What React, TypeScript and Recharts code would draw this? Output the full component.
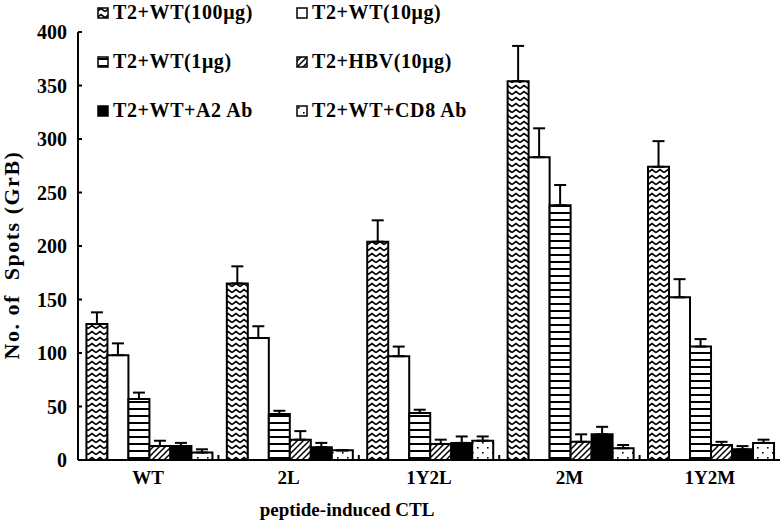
import { Bar, BarChart, ErrorBar, XAxis, YAxis } from 'recharts';

const categories = ['WT', '2L', '1Y2L', '2M', '1Y2M'];
const seriesNames = ['T2+WT(100μg)', 'T2+WT(10μg)', 'T2+WT(1μg)', 'T2+HBV(10μg)', 'T2+WT+A2 Ab', 'T2+WT+CD8 Ab'];
const wt100 = [127, 165, 204, 354, 274];
const wt100Err = [11, 16, 20, 33, 24];
const wt10 = [98, 114, 97, 283, 152];
const wt10Err = [11, 11, 9, 27, 17];
const wt1 = [57, 43, 44, 238, 106];
const wt1Err = [6, 3, 3, 19, 7];
const hbv = [13, 19, 15, 17, 14];
const hbvErr = [5, 8, 4, 7, 3];
const a2Ab = [13, 12, 16, 24, 10];
const a2AbErr = [3, 4, 6, 7, 3];
const cd8Ab = [7, 9, 18, 11, 16];
const cd8AbErr = [3, 0, 4, 3, 3];
const yTicks = [0, 50, 100, 150, 200, 250, 300, 350, 400];

const keys = ['wt100', 'wt10', 'wt1', 'hbv', 'a2', 'cd8'];
const fills = ['url(#zigzag)', '#fff', 'url(#hstripe)', 'url(#diag)', '#000', 'url(#dots)'];

const data = categories.map((name, i) => ({
  name,
  wt100: wt100[i],
  wt100Err: [0, wt100Err[i]],
  wt10: wt10[i],
  wt10Err: [0, wt10Err[i]],
  wt1: wt1[i],
  wt1Err: [0, wt1Err[i]],
  hbv: hbv[i],
  hbvErr: [0, hbvErr[i]],
  a2: a2Ab[i],
  a2Err: [0, a2AbErr[i]],
  cd8: cd8Ab[i],
  cd8Err: [0, cd8AbErr[i]],
}));

const FONT = '"Liberation Serif", "Times New Roman", serif';

function Patterns() {
  return (
    <svg width={0} height={0} style={{ position: 'absolute' }}>
      <defs>
        <pattern id="zigzag" patternUnits="userSpaceOnUse" width={8} height={6}>
          <rect width={8} height={6} fill="#fff" />
          <path d="M0 4.5 L4 1.5 L8 4.5" fill="none" stroke="#000" strokeWidth={1.6} />
        </pattern>
        <pattern id="hstripe" patternUnits="userSpaceOnUse" width={8} height={7}>
          <rect width={8} height={7} fill="#fff" />
          <rect y={2} width={8} height={2} fill="#000" />
        </pattern>
        <pattern id="diag" patternUnits="userSpaceOnUse" width={6} height={6}>
          <rect width={6} height={6} fill="#fff" />
          <path d="M0 6 L6 0 M-1 1 L1 -1 M5 7 L7 5" stroke="#000" strokeWidth={1.5} />
        </pattern>
        <pattern id="dots" patternUnits="userSpaceOnUse" width={10} height={10}>
          <rect width={10} height={10} fill="#fff" />
          <rect x={2} y={2} width={1.6} height={1.6} fill="#000" />
          <rect x={7} y={7} width={1.6} height={1.6} fill="#000" />
        </pattern>
      </defs>
    </svg>
  );
}

function CategoryTick(props: any) {
  const { x, y, payload } = props;
  const off = payload && typeof payload.offset === 'number' ? payload.offset : 0;
  return (
    <g>
      {off > 0 && payload.index > 0 && (
        <line x1={x - off} x2={x - off} y1={y} y2={y - 5} stroke="#000" strokeWidth={2} />
      )}
      <text x={x} y={y + 24} textAnchor="middle" fontFamily={FONT} fontWeight="bold" fontSize={19} fill="#000">
        {payload.value}
      </text>
    </g>
  );
}

function ValueTick(props: any) {
  const { x, y, payload } = props;
  return (
    <g>
      <line x1={x} x2={x + 4} y1={y} y2={y} stroke="#000" strokeWidth={2} />
      <text x={x - 11} y={y} dy="0.35em" textAnchor="end" fontFamily={FONT} fontWeight="bold" fontSize={20} fill="#000">
        {payload.value}
      </text>
    </g>
  );
}

function LegendBlock() {
  return (
    <div style={{ position: 'absolute', left: 97, top: 0, fontFamily: FONT, fontWeight: 'bold', fontSize: 20 }}>
      {seriesNames.map((name, i) => (
        <div
          key={name}
          style={{
            position: 'absolute',
            left: (i % 2) * 199,
            top: 1 + Math.floor(i / 2) * 49,
            display: 'flex',
            alignItems: 'center',
            whiteSpace: 'nowrap',
            letterSpacing: 0.6,
          }}
        >
          <svg width={12} height={12} style={{ marginRight: 4 }}>
            <rect x={1} y={1} width={10} height={10} fill={fills[i]} stroke="#000" strokeWidth={1.5} />
          </svg>
          {name}
        </div>
      ))}
    </div>
  );
}

export default function App() {
  return (
    <div style={{ position: 'absolute', left: 0, top: 0, width: 784, height: 523, background: '#fff' }}>
      <Patterns />
      <BarChart
        width={784}
        height={523}
        data={data}
        margin={{ top: 32, right: 4, left: 0, bottom: 0 }}
        barCategoryGap="6%"
        barGap={0}
      >
        <XAxis
          dataKey="name"
          height={63}
          axisLine={{ stroke: '#000', strokeWidth: 2 }}
          tickLine={false}
          tickSize={0}
          tickMargin={0}
          tick={<CategoryTick />}
          interval={0}
        />
        <YAxis
          width={78}
          domain={[0, 400]}
          ticks={yTicks}
          axisLine={{ stroke: '#000', strokeWidth: 2 }}
          tickLine={false}
          tickSize={0}
          tickMargin={0}
          tick={<ValueTick />}
          interval={0}
        />
        {keys.map((k, i) => (
          <Bar key={k} dataKey={k} name={seriesNames[i]} fill={fills[i]} stroke="#000" strokeWidth={2} isAnimationActive={false}>
            <ErrorBar dataKey={`${k}Err`} width={6} stroke="#000" strokeWidth={2} direction="y" isAnimationActive={false} />
          </Bar>
        ))}
      </BarChart>
      <LegendBlock />
      <div
        style={{
          position: 'absolute',
          left: 12,
          top: 255,
          transform: 'translate(-50%, -50%) rotate(-90deg)',
          fontFamily: FONT,
          fontWeight: 'bold',
          fontSize: 22,
          whiteSpace: 'nowrap',
          letterSpacing: 1.5,
        }}
      >
        No. of&nbsp; Spots (GrB)
      </div>
      <div
        style={{
          position: 'absolute',
          left: 347,
          top: 510,
          transform: 'translate(-50%, -50%)',
          fontFamily: FONT,
          fontWeight: 'bold',
          fontSize: 19,
          whiteSpace: 'nowrap',
        }}
      >
        peptide-induced CTL
      </div>
    </div>
  );
}
